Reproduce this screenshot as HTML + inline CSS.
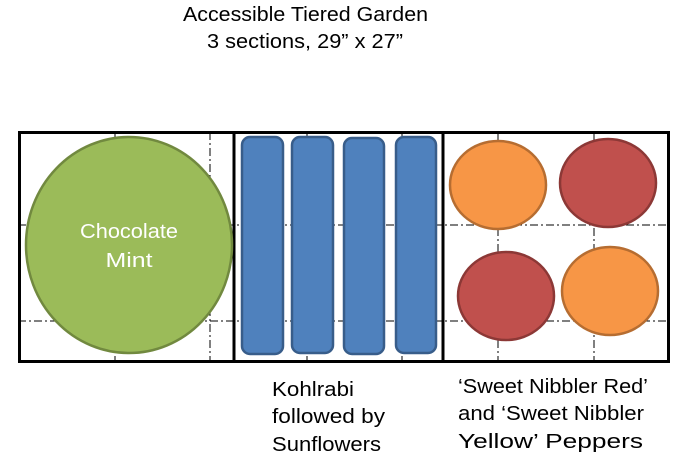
<!DOCTYPE html>
<html><head><meta charset="utf-8"><style>html,body{margin:0;padding:0;background:#fff}svg{display:block}</style></head>
<body>
<svg width="680" height="461" xmlns="http://www.w3.org/2000/svg" font-family="Liberation Sans, sans-serif">
<g fill="#000" font-size="20">
<text x="183" y="21" textLength="245" lengthAdjust="spacingAndGlyphs">Accessible Tiered Garden</text>
<text x="207" y="48" textLength="196" lengthAdjust="spacingAndGlyphs">3 sections, 29” x 27”</text>
<text x="272" y="396" textLength="82" lengthAdjust="spacingAndGlyphs">Kohlrabi</text>
<text x="272" y="423" textLength="113" lengthAdjust="spacingAndGlyphs">followed by</text>
<text x="272" y="451" textLength="109" lengthAdjust="spacingAndGlyphs">Sunflowers</text>
<text x="458" y="393" textLength="190" lengthAdjust="spacingAndGlyphs">‘Sweet Nibbler Red’</text>
<text x="458" y="420" textLength="186" lengthAdjust="spacingAndGlyphs">and ‘Sweet Nibbler</text>
<text x="458" y="448" textLength="185" lengthAdjust="spacingAndGlyphs">Yellow’ Peppers</text>
</g>
<g stroke="#000" stroke-width="1" stroke-dasharray="8,3,2,3" fill="none">
<line x1="18" y1="225" x2="670" y2="225"/>
<line x1="18" y1="321" x2="670" y2="321"/>
<line x1="115" y1="132" x2="115" y2="363"/>
<line x1="210" y1="132" x2="210" y2="363"/>
<line x1="307" y1="132" x2="307" y2="363"/>
<line x1="402" y1="132" x2="402" y2="363"/>
<line x1="498" y1="132" x2="498" y2="363"/>
<line x1="594" y1="132" x2="594" y2="363"/>
</g>
<rect x="19.5" y="132.5" width="649" height="229" fill="none" stroke="#000" stroke-width="3"/>
<line x1="234" y1="132" x2="234" y2="363" stroke="#000" stroke-width="3"/>
<line x1="443" y1="132" x2="443" y2="363" stroke="#000" stroke-width="3"/>
<ellipse cx="129" cy="245" rx="103" ry="108" fill="#9bbb59" stroke="#71893f" stroke-width="2.5"/>
<text x="129" y="238" fill="#fff" font-size="20" text-anchor="middle" textLength="98" lengthAdjust="spacingAndGlyphs">Chocolate</text>
<text x="129" y="267" fill="#fff" font-size="20" text-anchor="middle" textLength="47" lengthAdjust="spacingAndGlyphs">Mint</text>
<g fill="#4f81bd" stroke="#385d8a" stroke-width="2.5">
<rect x="242" y="137" width="41" height="217" rx="8"/>
<rect x="292" y="137" width="41" height="216" rx="8"/>
<rect x="344" y="138" width="40" height="216" rx="8"/>
<rect x="396" y="137" width="40" height="216" rx="8"/>
</g>
<g stroke-width="2.5">
<ellipse cx="498" cy="185" rx="48" ry="44" fill="#f79646" stroke="#b66d31"/>
<ellipse cx="608" cy="183" rx="48" ry="44" fill="#c0504d" stroke="#8c3836"/>
<ellipse cx="506" cy="296" rx="48" ry="44" fill="#c0504d" stroke="#8c3836"/>
<ellipse cx="610" cy="291" rx="48" ry="44" fill="#f79646" stroke="#b66d31"/>
</g>
</svg>
</body></html>
